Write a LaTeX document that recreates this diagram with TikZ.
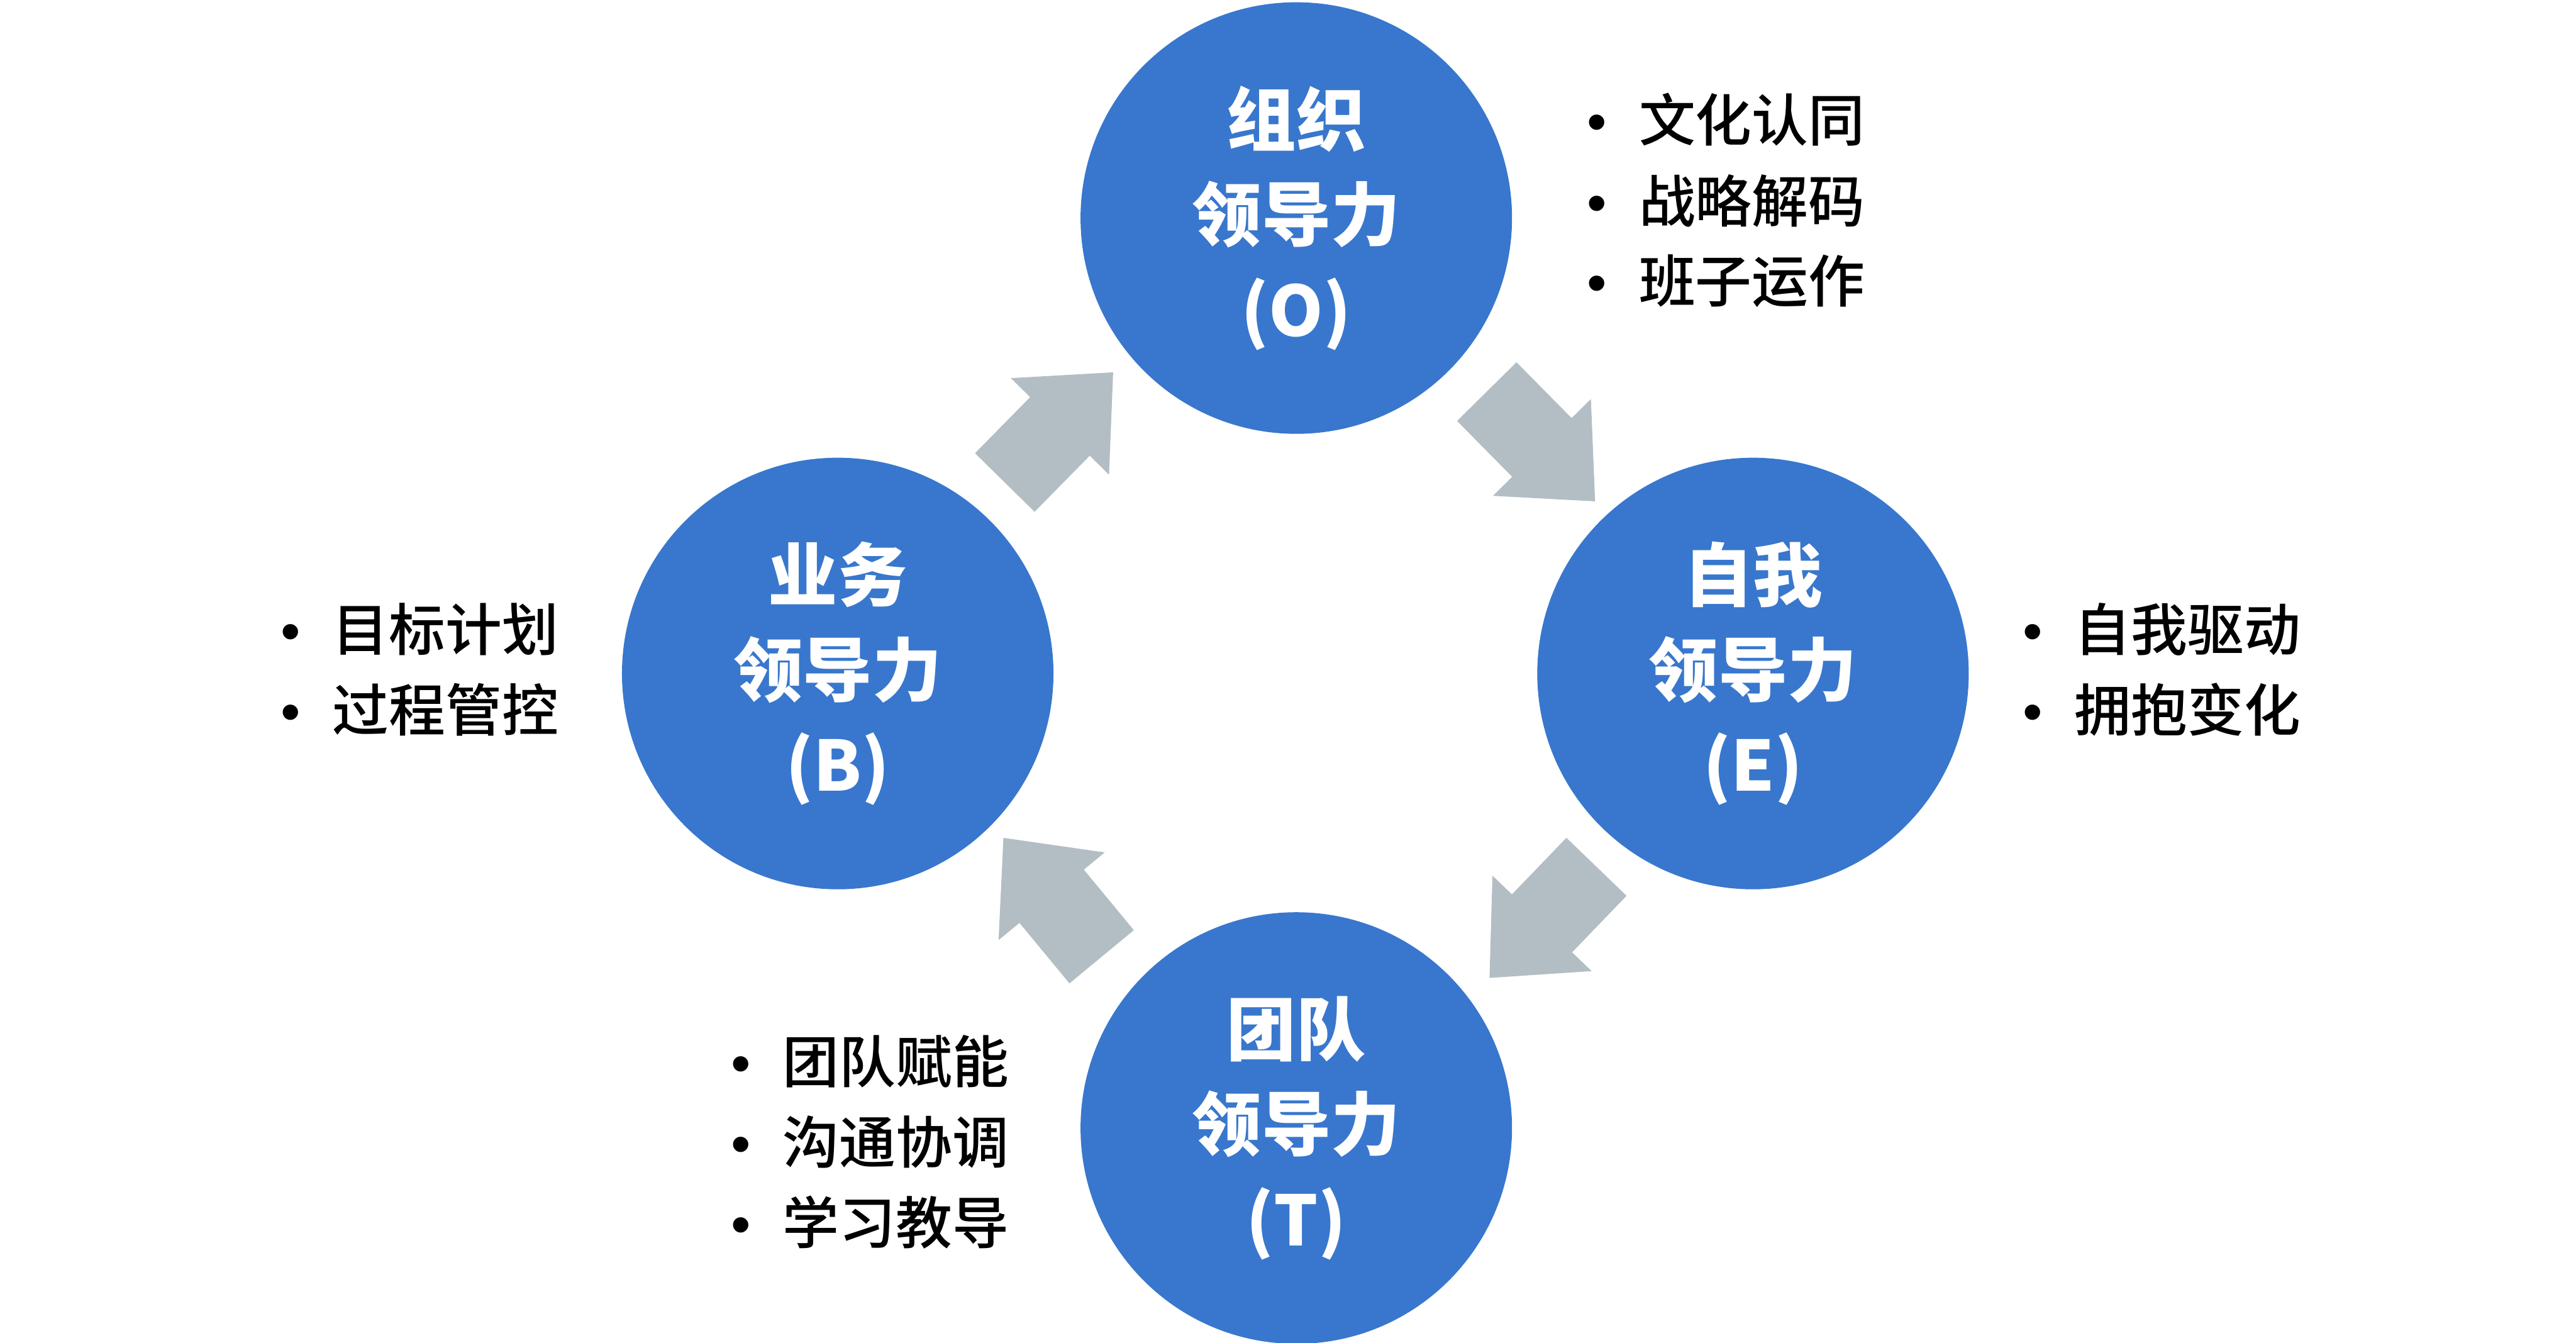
\documentclass[tikz,border=0pt]{standalone}
\usepackage{fontspec}
\usepackage{tikz}
\usetikzlibrary{positioning, calc}
\setmainfont{Noto Sans CJK SC}
\newfontfamily\listfont{Noto Sans CJK SC Medium}
\newfontfamily\bulfont{Liberation Sans}
\definecolor{leadblue}{HTML}{3877CD}
\definecolor{flowgrey}{HTML}{B3BEC4}

% bullet in front of a list line
\newcommand{\bul}{\makebox[1.13cm][l]{\bulfont •}}
% broad grey arrow from #1 (tail) to #2 (tip)
\newcommand{\cyclearrow}[2]{%
  \path ($(#1)!0.509!(#2)$) coordinate (#1-n);
  \fill[flowgrey] ($(#1)!0.91cm!90:(#2)$) -- ($(#1-n)!0.91cm!90:(#2)$)
    -- ($(#1-n)!1.5cm!90:(#2)$) -- (#2) -- ($(#1-n)!1.5cm!-90:(#2)$)
    -- ($(#1-n)!0.91cm!-90:(#2)$) -- ($(#1)!0.91cm!-90:(#2)$) -- cycle;}

\begin{document}
\begin{tikzpicture}[
  lead/.style={circle, fill=leadblue, minimum size=9.4cm, inner sep=0pt, align=center, text=white, font=\bfseries\fontsize{43}{59}\selectfont},
  point/.style={anchor=west, inner sep=0pt, font=\listfont\fontsize{35}{42}\selectfont}
]
  \useasboundingbox (0,0) rectangle (56.12,29.25);

  \node[lead] (O) at (28.24,24.50) {组织\\领导力\\(O)};
  \node[lead] (B) at (18.25,14.58) {业务\\领导力\\(B)};
  \node[lead] (E) at (38.19,14.58) {自我\\领导力\\(E)};
  \node[lead] (T) at (28.24,4.68) {团队\\领导力\\(T)};

  % arrows between the circles
  \coordinate (a1) at (21.89,18.74); \coordinate (a1t) at (24.25,21.14);
  \coordinate (a2) at (32.39,20.72); \coordinate (a2t) at (34.75,18.33);
  \coordinate (a3) at (34.78,10.37); \coordinate (a3t) at (32.45,7.95);
  \coordinate (a4) at (24.00,8.41);  \coordinate (a4t) at (21.86,11.00);
  \cyclearrow{a1}{a1t}
  \cyclearrow{a2}{a2t}
  \cyclearrow{a3}{a3t}
  \cyclearrow{a4}{a4t}

  % lists
  \node[point] (o1) at (34.57,26.64) {\bul 文化认同};
  \node[point] (o2) at (34.57,24.88) {\bul 战略解码};
  \node[point] (o3) at (34.57,23.13) {\bul 班子运作};

  \node[point] (e1) at (44.06,15.54) {\bul 自我驱动};
  \node[point] (e2) at (44.06,13.79) {\bul 拥抱变化};

  \node[point] (b1) at (6.11,15.54) {\bul 目标计划};
  \node[point] (b2) at (6.11,13.79) {\bul 过程管控};

  \node[point] (t1) at (15.92,6.13) {\bul 团队赋能};
  \node[point] (t2) at (15.92,4.38) {\bul 沟通协调};
  \node[point] (t3) at (15.92,2.62) {\bul 学习教导};
\end{tikzpicture}
\end{document}
